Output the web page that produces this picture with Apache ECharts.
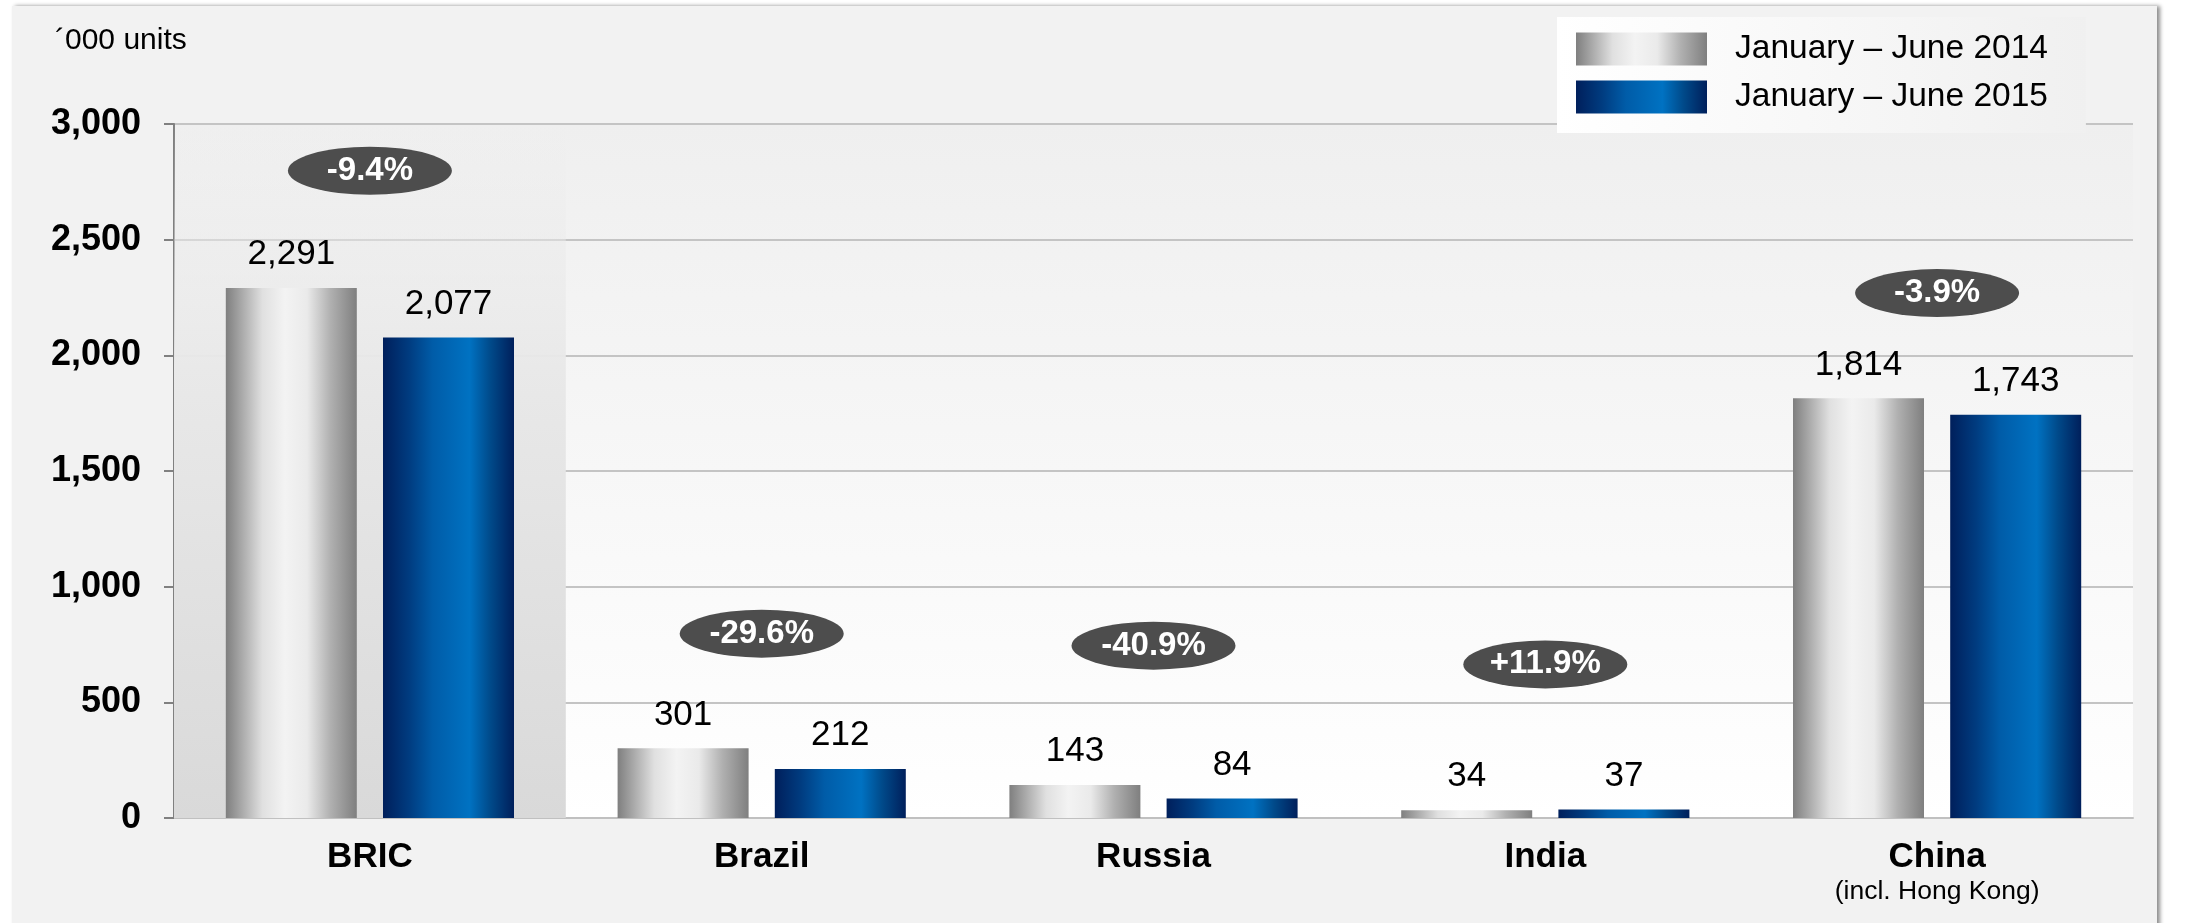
<!DOCTYPE html>
<html>
<head>
<meta charset="utf-8">
<script src="https://cdn.jsdelivr.net/npm/echarts@6/dist/echarts.min.js"></script>
<style>
  html, body { margin: 0; padding: 0; background: #ffffff; overflow: hidden; }
  #panel { position: absolute; left: 12px; top: 6px; width: 2145px; height: 930px; background: #f2f2f2; box-shadow: 3px 0 4px rgba(0,0,0,0.45); }
  #chart { position: absolute; left: 0; top: 0; width: 2203px; height: 923px; }
</style>
</head>
<body>
<div id="panel"></div>
<div id="chart"></div>
<script>
const categories = ['BRIC', 'Brazil', 'Russia', 'India', 'China'];
const categoryNotes = ['', '', '', '', '(incl. Hong Kong)'];
const seriesNames = ['January \u2013 June 2014', 'January \u2013 June 2015'];
const values2014 = [2291, 301, 143, 34, 1814];
const values2015 = [2077, 212, 84, 37, 1743];
const changeLabels = ['-9.4%', '-29.6%', '-40.9%', '+11.9%', '-3.9%'];
const changeBubbleY = [2798, 797, 745, 664, 2269];
const highlightBand = [3000, '-', '-', '-', '-'];
const unitLabel = '\u00b4000 units';
const yMin = 0, yMax = 3000, yStep = 500;

const FONT = "'Liberation Sans', Arial, sans-serif";
const fmt = v => Number(v).toLocaleString('en-US');

const grayGrad = new echarts.graphic.LinearGradient(0, 0, 1, 0, [
  { offset: 0, color: '#7f7f7f' },
  { offset: 0.28, color: '#e0e0e0' },
  { offset: 0.45, color: '#f3f3f3' },
  { offset: 0.62, color: '#eaeaea' },
  { offset: 0.8, color: '#b0b0b0' },
  { offset: 1, color: '#7f7f7f' }
]);
const blueGrad = new echarts.graphic.LinearGradient(0, 0, 1, 0, [
  { offset: 0, color: '#001f5b' },
  { offset: 0.2, color: '#003c80' },
  { offset: 0.38, color: '#005ca8' },
  { offset: 0.66, color: '#0072c2' },
  { offset: 0.82, color: '#004a8a' },
  { offset: 1, color: '#001f5b' }
]);

const chart = echarts.init(document.getElementById('chart'), null, { renderer: 'canvas' });
chart.setOption({
  backgroundColor: 'transparent',
  animation: false,
  textStyle: { fontFamily: FONT },
  title: {
    text: unitLabel, left: 50, top: 21,
    textStyle: { fontFamily: FONT, fontSize: 30, fontWeight: 'normal', color: '#000' }
  },
  legend: {
    data: seriesNames,
    orient: 'vertical',
    left: 1557, top: 17,
    padding: [15, 38, 19, 19],
    itemWidth: 131, itemHeight: 33, itemGap: 14,
    icon: 'rect',
    backgroundColor: new echarts.graphic.LinearGradient(0, 0, 1, 0, [
      { offset: 0, color: '#ffffff' }, { offset: 1, color: '#f0f0f0' }
    ]),
    textStyle: { fontFamily: FONT, fontSize: 33.5, color: '#000', padding: [0, 0, 0, 23] }
  },
  grid: {
    left: 174, right: 70, top: 124, bottom: 105,
    show: true, borderWidth: 0,
    backgroundColor: new echarts.graphic.LinearGradient(0, 0, 0, 1, [
      { offset: 0, color: '#efefef' }, { offset: 1, color: '#ffffff' }
    ])
  },
  xAxis: [{
    type: 'category', data: categories, boundaryGap: true,
    axisLine: { show: true, lineStyle: { color: '#c0c0c0', width: 2 } },
    axisTick: { show: false },
    axisLabel: {
      margin: 20,
      formatter: (v) => {
        const i = categories.indexOf(v);
        return categoryNotes[i] ? '{b|' + v + '}\n{s|' + categoryNotes[i] + '}' : '{b|' + v + '}';
      },
      rich: {
        b: { fontFamily: FONT, fontSize: 35, fontWeight: 'bold', color: '#000', lineHeight: 38 },
        s: { fontFamily: FONT, fontSize: 26.5, color: '#000', lineHeight: 31 }
      }
    }
  }, {
    type: 'category', data: categories, boundaryGap: true, show: false
  }],
  yAxis: {
    type: 'value', min: yMin, max: yMax, interval: yStep,
    axisLine: { show: true, lineStyle: { color: '#808080', width: 2 } },
    axisTick: { show: true, length: 10, lineStyle: { color: '#808080', width: 2 } },
    splitLine: { show: true, lineStyle: { color: '#c4c4c4', width: 2 } },
    axisLabel: {
      margin: 33, formatter: fmt,
      fontFamily: FONT, fontSize: 36, fontWeight: 'bold', color: '#000'
    }
  },
  series: [
    {
      name: 'band', type: 'bar', xAxisIndex: 1, data: highlightBand,
      barWidth: '100%', silent: true, z: 0,
      itemStyle: {
        color: new echarts.graphic.LinearGradient(0, 0, 0, 1, [
          { offset: 0, color: 'rgba(235,235,235,0)' }, { offset: 0.35, color: '#e9e9e9' }, { offset: 1, color: '#d9d9d9' }
        ])
      }
    },
    {
      name: seriesNames[0], type: 'bar', data: values2014,
      barWidth: 131, barGap: '20%', z: 3,
      itemStyle: { color: grayGrad },
      label: { show: true, position: 'top', distance: 16, formatter: p => fmt(p.value),
        fontFamily: FONT, fontSize: 35, color: '#000' }
    },
    {
      name: seriesNames[1], type: 'bar', data: values2015,
      barWidth: 131, barGap: '20%', z: 3,
      itemStyle: { color: blueGrad },
      label: { show: true, position: 'top', distance: 16, formatter: p => fmt(p.value),
        fontFamily: FONT, fontSize: 35, color: '#000' }
    },
    {
      name: 'change', type: 'scatter', data: changeBubbleY,
      symbol: 'circle', symbolSize: [164, 48], z: 5,
      itemStyle: { color: '#4d4d4d', opacity: 1 },
      label: { show: true, position: 'inside', formatter: p => changeLabels[p.dataIndex],
        fontFamily: FONT, fontSize: 33, fontWeight: 'bold', color: '#ffffff' }
    }
  ]
});
</script>
</body>
</html>
